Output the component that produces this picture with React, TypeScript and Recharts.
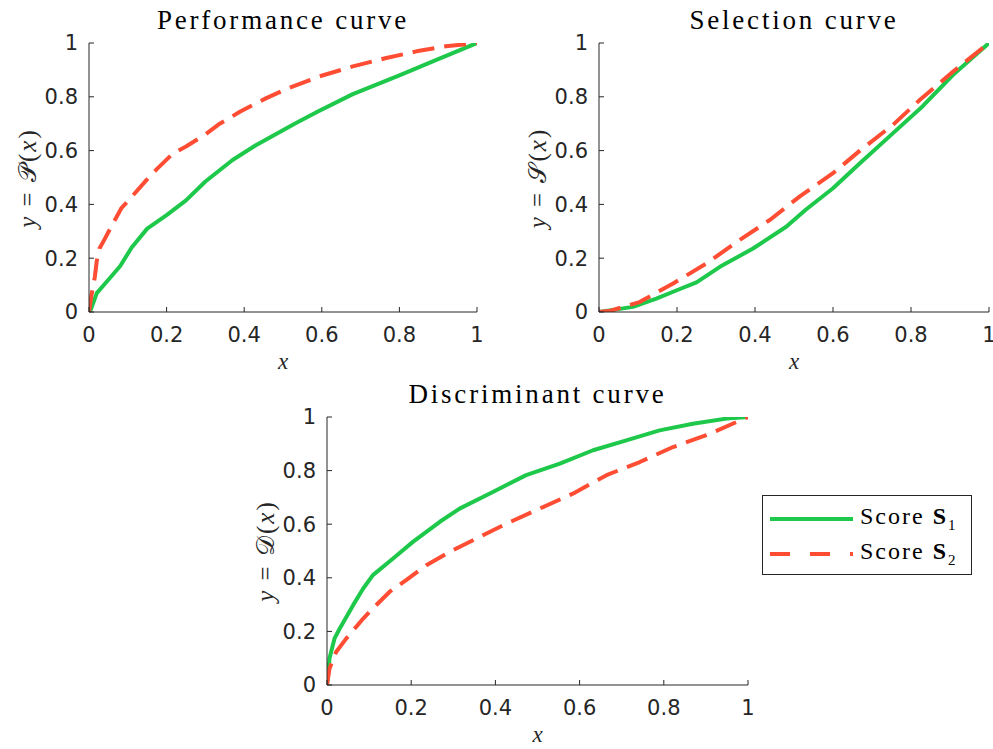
import React from "react";
import { LineChart, Line, XAxis, YAxis } from "recharts";

// colours / fonts
const GREEN = "#1ec84a";
const RED = "#ff4d33";
const AXIS = "#262626";
const SERIF = '"Liberation Serif", "DejaVu Serif", serif';
const SANS = '"DejaVu Sans", sans-serif';

const ticks = [0, 0.2, 0.4, 0.6, 0.8, 1];

// Performance curve
const perfX1 = [0, 0.005, 0.02, 0.05, 0.08, 0.11, 0.15, 0.2, 0.25, 0.3, 0.37, 0.43, 0.48, 0.53, 0.59, 0.68, 0.8, 0.9, 1];
const perfS1 = [0, 0.01, 0.07, 0.12, 0.17, 0.24, 0.31, 0.36, 0.415, 0.485, 0.565, 0.62, 0.66, 0.7, 0.745, 0.81, 0.88, 0.94, 1];
const perfX2 = [0, 0.006, 0.015, 0.02, 0.027, 0.04, 0.062, 0.083, 0.105, 0.148, 0.174, 0.217, 0.25, 0.3, 0.337, 0.39, 0.457, 0.51, 0.594, 0.68, 0.766, 0.844, 0.92, 1];
const perfS2 = [0, 0.06, 0.13, 0.19, 0.236, 0.27, 0.33, 0.385, 0.42, 0.49, 0.53, 0.59, 0.615, 0.66, 0.7, 0.745, 0.795, 0.83, 0.876, 0.913, 0.944, 0.969, 0.988, 1];

// Selection curve
const selX1 = [0, 0.087, 0.147, 0.198, 0.25, 0.31, 0.395, 0.48, 0.53, 0.6, 0.669, 0.754, 0.83, 0.908, 1];
const selS1 = [0, 0.019, 0.05, 0.08, 0.11, 0.168, 0.236, 0.317, 0.38, 0.46, 0.553, 0.665, 0.765, 0.882, 1];
const selX2 = [0, 0.03, 0.104, 0.19, 0.275, 0.36, 0.438, 0.515, 0.6, 0.669, 0.754, 0.823, 0.908, 1];
const selS2 = [0, 0.005, 0.037, 0.106, 0.18, 0.267, 0.342, 0.43, 0.516, 0.6, 0.696, 0.789, 0.894, 1];

// Discriminant curve
const discX1 = [0, 0.006, 0.018, 0.03, 0.062, 0.086, 0.109, 0.157, 0.204, 0.268, 0.315, 0.394, 0.473, 0.553, 0.632, 0.711, 0.79, 0.869, 0.949, 1];
const discS1 = [0, 0.1, 0.174, 0.21, 0.298, 0.36, 0.41, 0.472, 0.534, 0.609, 0.658, 0.72, 0.783, 0.826, 0.876, 0.913, 0.95, 0.975, 0.994, 1];
const discX2 = [0, 0.006, 0.022, 0.046, 0.086, 0.109, 0.149, 0.188, 0.236, 0.299, 0.363, 0.426, 0.505, 0.584, 0.664, 0.743, 0.822, 0.901, 1];
const discS2 = [0, 0.062, 0.124, 0.174, 0.248, 0.286, 0.348, 0.391, 0.447, 0.503, 0.553, 0.602, 0.658, 0.714, 0.783, 0.832, 0.888, 0.932, 1];

const zip = (xs: number[], ys: number[]) => xs.map((x, i) => ({ x, y: ys[i] }));

type PanelProps = {
  left: number;
  top: number;
  width: number;
  height: number;
  marginTop: number;
  marginRight: number;
  xAxisHeight: number;
  s1: { x: number; y: number }[];
  s2: { x: number; y: number }[];
  title: string;
  letter: string;
};

const YW = 89;

function Panel(p: PanelProps) {
  const plotW = p.width - YW - p.marginRight;
  const plotH = p.height - p.marginTop - p.xAxisHeight;
  const cx = p.left + YW + plotW / 2;
  const cy = p.top + p.marginTop + plotH / 2;
  const tickStyle = { fill: AXIS, fontSize: 21, fontFamily: SANS };
  return (
    <>
      <div
        style={{
          position: "absolute",
          left: cx,
          top: p.top + p.marginTop - 38,
          transform: "translateX(-50%)",
          fontFamily: SERIF,
          fontSize: 27,
          letterSpacing: 2.8,
          whiteSpace: "nowrap",
          color: "#000",
          lineHeight: "30px",
        }}
      >
        {p.title}
      </div>
      <div
        style={{
          position: "absolute",
          left: p.left + YW - 61,
          top: cy,
          transform: "translate(-50%, -50%) rotate(-90deg)",
          fontFamily: SERIF,
          fontSize: 25,
          letterSpacing: 2,
          whiteSpace: "nowrap",
          color: AXIS,
          lineHeight: "28px",
        }}
      >
        <i>y</i> = {p.letter}(<i>x</i>)
      </div>
      <div
        style={{
          position: "absolute",
          left: cx,
          top: p.top + p.marginTop + plotH + 38,
          transform: "translateX(-50%)",
          fontFamily: SERIF,
          fontSize: 23,
          fontStyle: "italic",
          color: AXIS,
          lineHeight: "24px",
        }}
      >
        x
      </div>
      <div style={{ position: "absolute", left: p.left, top: p.top }}>
        <LineChart
          width={p.width}
          height={p.height}
          margin={{ top: p.marginTop, right: p.marginRight, left: 0, bottom: 0 }}
        >
          <XAxis
            type="number"
            dataKey="x"
            domain={[0, 1]}
            ticks={ticks}
            interval={0}
            height={p.xAxisHeight}
            tickSize={-5}
            tickMargin={20}
            axisLine={{ stroke: AXIS, strokeWidth: 1 }}
            tickLine={{ stroke: AXIS }}
            tick={tickStyle}
            allowDataOverflow
          />
          <YAxis
            type="number"
            domain={[0, 1]}
            ticks={ticks}
            interval={0}
            width={YW}
            tickSize={-5}
            tickMargin={16}
            axisLine={{ stroke: AXIS, strokeWidth: 1 }}
            tickLine={{ stroke: AXIS }}
            tick={tickStyle}
            allowDataOverflow
          />
          <Line
            data={p.s1}
            dataKey="y"
            type="linear"
            name="Score S1"
            stroke={GREEN}
            strokeWidth={4}
            strokeLinejoin="round"
            dot={false}
            activeDot={false}
            isAnimationActive={false}
          />
          <Line
            data={p.s2}
            dataKey="y"
            type="linear"
            name="Score S2"
            stroke={RED}
            strokeWidth={4}
            strokeLinejoin="round"
            strokeDasharray="22 10"
            dot={false}
            activeDot={false}
            isAnimationActive={false}
          />
        </LineChart>
      </div>
    </>
  );
}

function LegendBox() {
  const row = (color: string, dash: string | undefined, sub: string) => (
    <div style={{ display: "flex", alignItems: "center", height: 35 }}>
      <svg width={92} height={10} style={{ display: "block" }}>
        <line x1={7} x2={90} y1={5} y2={5} stroke={color} strokeWidth={4} strokeDasharray={dash} />
      </svg>
      <span
        style={{
          fontFamily: SERIF,
          fontSize: 24,
          letterSpacing: 2,
          marginLeft: 5,
          whiteSpace: "nowrap",
          color: "#000",
        }}
      >
        Score <b>S</b>
        <sub style={{ fontSize: 15 }}>{sub}</sub>
      </span>
    </div>
  );
  return (
    <div
      style={{
        position: "absolute",
        left: 762,
        top: 495,
        width: 210,
        height: 80,
        border: "1px solid #262626",
        background: "#fff",
        paddingTop: 5,
        boxSizing: "border-box",
      }}
    >
      {row(GREEN, undefined, "1")}
      {row(RED, "20 20", "2")}
    </div>
  );
}

export default function App() {
  return (
    <div
      style={{
        position: "absolute",
        left: 0,
        top: 0,
        width: 993,
        height: 749,
        overflow: "hidden",
        background: "#fff",
      }}
    >
      <Panel
        left={0}
        top={0}
        width={493}
        height={380}
        marginTop={43}
        marginRight={16}
        xAxisHeight={68}
        s1={zip(perfX1, perfS1)}
        s2={zip(perfX2, perfS2)}
        title="Performance curve"
        letter="𝒫"
      />
      <Panel
        left={510}
        top={0}
        width={493}
        height={380}
        marginTop={43}
        marginRight={14}
        xAxisHeight={68}
        s1={zip(selX1, selS1)}
        s2={zip(selX2, selS2)}
        title="Selection curve"
        letter="𝒮"
      />
      <Panel
        left={238}
        top={375}
        width={530}
        height={374}
        marginTop={42}
        marginRight={20}
        xAxisHeight={64}
        s1={zip(discX1, discS1)}
        s2={zip(discX2, discS2)}
        title="Discriminant curve"
        letter="𝒟"
      />
      <LegendBox />
    </div>
  );
}
